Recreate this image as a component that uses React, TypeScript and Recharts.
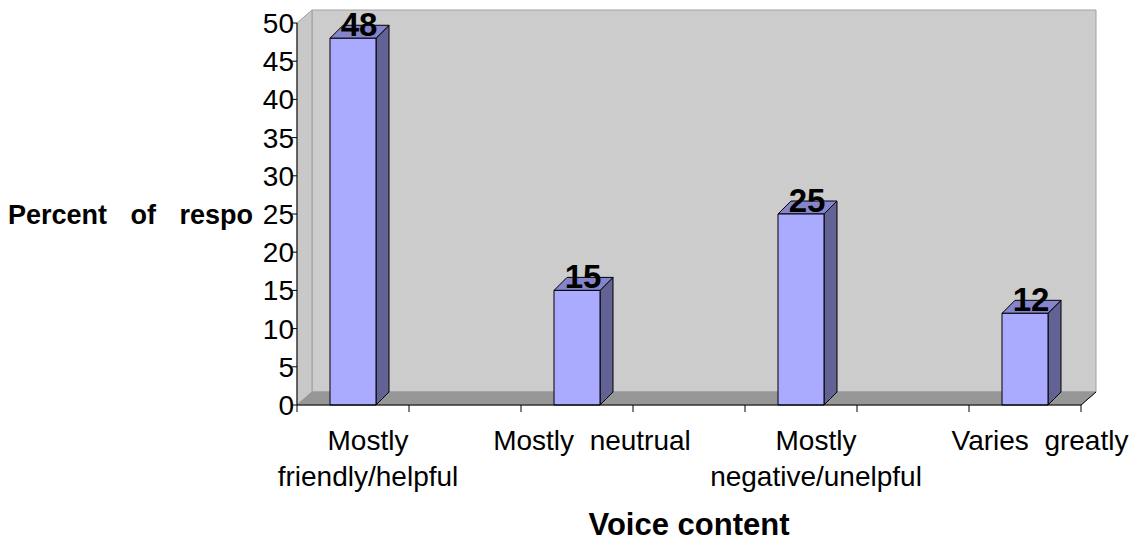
import { BarChart, Bar, XAxis, YAxis, ReferenceArea, LabelList } from "recharts"

// categories, with empty slots between the answered ones (as in the original sheet)
const categories = ["friendly", "gap1", "neutral", "gap2", "negative", "gap3", "varies"]
const tickLabels = [
  ["Mostly", "friendly/helpful"],
  [],
  ["Mostly  neutrual"],
  [],
  ["Mostly", "negative/unelpful"],
  [],
  ["Varies  greatly"],
]
const percents = [48, null, 15, null, 25, null, 12]
const yTicks = [0, 5, 10, 15, 20, 25, 30, 35, 40, 45, 50]

const data = categories.map((c, i) => ({ cat: c, pct: percents[i] }))

const FONT = "'Liberation Sans', Arial, sans-serif"
const DX = 15
const DY = 13
const BAR_D = 13

// back wall, side wall, floor and category tick marks
function Walls(props: any) {
  const { x, y, width: w, height: h } = props
  const n = categories.length
  return (
    <g>
      <polygon
        points={`${x + DX},${y - DY} ${x + w + DX},${y - DY} ${x + w + DX},${y + h - DY} ${x + DX},${y + h - DY}`}
        fill="#cccccc"
        stroke="#a0a0a0"
      />
      <polygon
        points={`${x},${y} ${x + DX},${y - DY} ${x + DX},${y + h - DY} ${x},${y + h}`}
        fill="#c8c8c8"
        stroke="#a0a0a0"
      />
      <polygon
        points={`${x},${y + h} ${x + DX},${y + h - DY} ${x + w + DX},${y + h - DY} ${x + w},${y + h}`}
        fill="#969696"
        stroke="#969696"
      />
      <line x1={x + w} y1={y + h} x2={x + w + DX} y2={y + h - DY} stroke="#000" />
      {Array.from({ length: n + 1 }, (_, i) => (
        <line key={i} x1={x + (i * w) / n} y1={y + h} x2={x + (i * w) / n} y2={y + h + 7} stroke="#000" />
      ))}
    </g>
  )
}

function Bar3D(props: any) {
  const { x, y, width: w, height: h } = props
  if (!h || h <= 0) return null
  const d = BAR_D
  return (
    <g stroke="#000" strokeWidth={1} strokeLinejoin="round">
      <polygon points={`${x + w},${y} ${x + w + d},${y - d} ${x + w + d},${y + h - d} ${x + w},${y + h}`} fill="#626295" />
      <polygon points={`${x},${y} ${x + d},${y - d} ${x + w + d},${y - d} ${x + w},${y}`} fill="#8585cc" />
      <rect x={x} y={y} width={w} height={h} fill="#aaaaff" />
    </g>
  )
}

function ValueLabel(props: any) {
  const { x, y, width, value } = props
  if (value == null) return null
  return (
    <text x={x + width / 2 + 6} y={y - 2} textAnchor="middle" fontFamily={FONT} fontWeight="bold" fontSize={33} fill="#000">
      {value}
    </text>
  )
}

function CategoryTick(props: any) {
  const { x, y, payload } = props
  const lines = tickLabels[payload.index] ?? []
  return (
    <g>
      {lines.map((t, i) => (
        <text
          key={i}
          x={x + 15}
          y={y + 45 + i * 36}
          textAnchor="middle"
          fontFamily={FONT}
          fontSize={28}
          fill="#000"
          style={{ whiteSpace: "pre" }}
        >
          {t}
        </text>
      ))}
    </g>
  )
}

export default function App() {
  return (
    <div style={{ position: "absolute", left: 0, top: 0, width: 1140, height: 548, background: "#fff" }}>
      <BarChart width={1140} height={548} data={data} margin={{ top: 23, right: 59, bottom: 63, left: 237 }} barSize={46}>
        <ReferenceArea y1={0} y2={50} shape={<Walls />} ifOverflow="visible" />
        <XAxis
          dataKey="cat"
          height={80}
          tickLine={false}
          tickSize={0}
          tickMargin={0}
          axisLine={{ stroke: "#000" }}
          tick={<CategoryTick />}
          interval={0}
          label={{
            content: (p: any) => (
              <text
                x={p.viewBox.x + p.viewBox.width / 2}
                y={535}
                textAnchor="middle"
                fontFamily={FONT}
                fontWeight="bold"
                fontSize={31}
                fill="#000"
              >
                Voice content
              </text>
            ),
          }}
        />
        <YAxis
          width={60}
          domain={[0, 50]}
          ticks={yTicks}
          interval={0}
          tickSize={5}
          tickMargin={-2}
          axisLine={{ stroke: "#000" }}
          tickLine={{ stroke: "#000" }}
          tick={{ fontFamily: FONT, fontSize: 28, fill: "#000" }}
          label={{
            content: () => (
              <text
                x={8}
                y={224}
                fontFamily={FONT}
                fontWeight="bold"
                fontSize={27}
                fill="#000"
                style={{ wordSpacing: "16px" }}
              >
                Percent of respo
              </text>
            ),
          }}
        />
        <Bar dataKey="pct" shape={<Bar3D />} isAnimationActive={false}>
          <LabelList dataKey="pct" content={<ValueLabel />} />
        </Bar>
      </BarChart>
    </div>
  )
}
